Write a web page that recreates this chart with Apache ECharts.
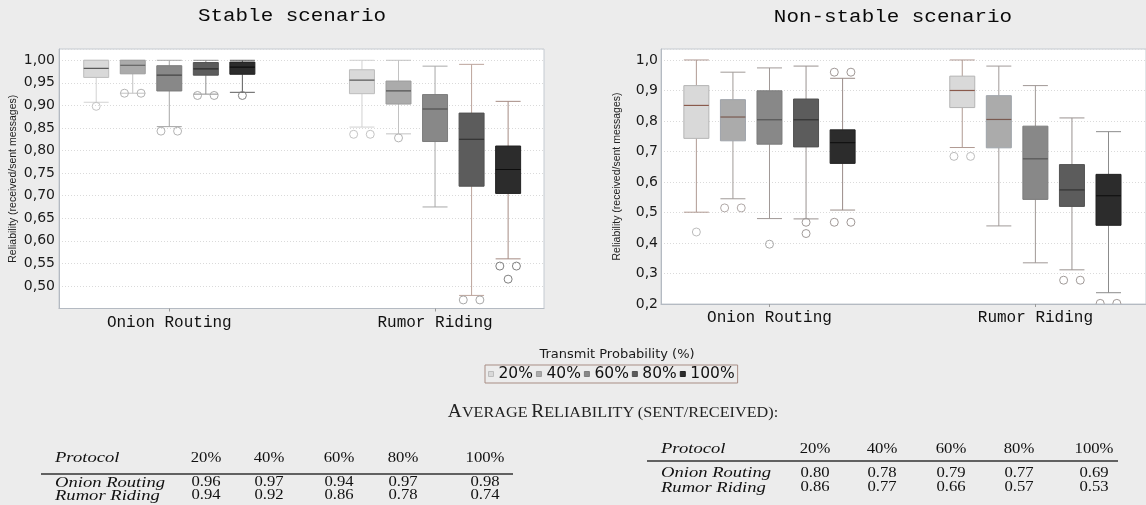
<!DOCTYPE html>
<html>
<head>
<meta charset="utf-8">
<script src="https://cdn.jsdelivr.net/npm/echarts@6/dist/echarts.min.js"></script>
<style>
  html, body { margin: 0; padding: 0; background: #ececec; }
  #chart { width: 1146px; height: 505px; }
</style>
</head>
<body>
<div id="chart"></div>
<script>
// Protocols on the x axis and transmit probabilities (one box per probability)
const categories = ['Onion Routing', 'Rumor Riding'];
const probabilities = ['20%', '40%', '60%', '80%', '100%'];

// Box statistics per probability: [lower whisker, Q1, median, Q3, upper whisker]
const stableOnion = [
  [0.907, 0.962, 0.982, 1.000, 1.000],
  [0.927, 0.970, 0.989, 1.000, 1.000],
  [0.853, 0.932, 0.967, 0.988, 1.000],
  [0.925, 0.967, 0.981, 0.995, 1.000],
  [0.929, 0.969, 0.985, 0.996, 1.000]
];
const stableRumor = [
  [0.852, 0.926, 0.956, 0.979, 1.000],
  [0.837, 0.903, 0.932, 0.954, 1.000],
  [0.675, 0.820, 0.892, 0.924, 0.987],
  [0.479, 0.721, 0.825, 0.883, 0.991],
  [0.560, 0.705, 0.758, 0.810, 0.909]
];
const stableOnionOutliers = [[0.898], [0.927, 0.927], [0.843, 0.843], [0.922, 0.922], [0.922]];
const stableRumorOutliers = [[0.836, 0.836], [0.828], [], [0.469, 0.469], [0.544, 0.544, 0.515]];

const unstableOnion = [
  [0.501, 0.743, 0.851, 0.916, 1.000],
  [0.545, 0.735, 0.813, 0.870, 0.960],
  [0.480, 0.724, 0.804, 0.899, 0.974],
  [0.479, 0.715, 0.804, 0.872, 0.980],
  [0.508, 0.661, 0.729, 0.771, 0.940]
];
const unstableRumor = [
  [0.713, 0.844, 0.900, 0.947, 1.000],
  [0.456, 0.712, 0.805, 0.883, 0.980],
  [0.335, 0.543, 0.676, 0.783, 0.916],
  [0.312, 0.520, 0.574, 0.657, 0.810],
  [0.237, 0.458, 0.555, 0.625, 0.765]
];
const unstableOnionOutliers = [[0.436], [0.515, 0.515], [0.396], [0.468, 0.431], [0.960, 0.960, 0.468, 0.468]];
const unstableRumorOutliers = [[0.684, 0.684], [], [], [0.278, 0.278], [0.202, 0.202]];

// Average reliability tables
const tableColumns = ['Protocol', '20%', '40%', '60%', '80%', '100%'];
const stableAvgOnion = [0.96, 0.97, 0.94, 0.97, 0.98];
const stableAvgRumor = [0.94, 0.92, 0.86, 0.78, 0.74];
const unstableAvgOnion = [0.80, 0.78, 0.79, 0.77, 0.69];
const unstableAvgRumor = [0.86, 0.77, 0.66, 0.57, 0.53];

// ---- styling ----
const boxFill = ['#d9d9d9', '#ababab', '#888888', '#5c5c5c', '#2c2c2c'];
const stableLook = {
  boxStroke: ['#bdbdbd', '#9c9c9c', '#7c7c7c', '#525252', '#222222'],
  median: ['#5a5a5a', '#555555', '#444444', '#2a2a2a', '#0d0d0d'],
  whisker: [['#d2d2d2', '#d2d2d2'], ['#c2c2c2', '#c2c2c2'], ['#a6a6a6', '#a8a8a8'], ['#8e8e8e', '#bca49c'], ['#5c5c5c', '#a68c84']],
  outlier: ['#c4c4c4', '#b4b4b4', '#b4b4b4', '#a8a8a8', '#808080']
};
const unstableLook = {
  boxStroke: ['#b4b4b4', '#9ea3aa', '#7c7c7c', '#525252', '#222222'],
  median: ['#8a5a4c', '#7a5a50', '#555555', '#333333', '#111111'],
  whisker: [['#b09a93', '#b09a93'], ['#a09a98', '#a09a98'], ['#a09896', '#a09896'], ['#9a9290', '#9a9290'], ['#9a8c88', '#8c8c8c']],
  outlier: ['#bcbcbc', '#b0a8a6', '#a8a8a8', '#a09a98', '#a09896']
};

const BOX_STEP = 0.1375;     // distance between neighbouring boxes, in category units
const BOX_WIDTH = 0.094;     // box width, in category units
const OUTLIER_STEP = 0.0625; // horizontal spread of repeated outliers

function boxSeries(k, gridIndex, onion, rumor, onionOut, rumorOut, look) {
  const outliers = [onionOut[k], rumorOut[k]];
  return {
    type: 'custom',
    name: probabilities[k],
    xAxisIndex: gridIndex,
    yAxisIndex: gridIndex,
    clip: true,
    itemStyle: { color: boxFill[k] },
    encode: { x: 0, y: [1, 2, 3, 4, 5] },
    data: [[0].concat(onion[k]), [1].concat(rumor[k])],
    renderItem: function (params, api) {
      const cat = api.value(0);
      const unit = api.size([1, 0])[0];
      const cx = api.coord([cat, 0])[0] + (k - 2) * unit * BOX_STEP;
      const half = unit * BOX_WIDTH / 2;
      const py = v => api.coord([cat, v])[1];
      const lo = py(api.value(1)), q1 = py(api.value(2)), md = py(api.value(3)),
            q3 = py(api.value(4)), hi = py(api.value(5));
      const wStyle = { stroke: look.whisker[k][cat], lineWidth: 1 };
      const children = [
        { type: 'line', shape: { x1: cx, y1: hi, x2: cx, y2: q3 }, style: wStyle },
        { type: 'line', shape: { x1: cx, y1: q1, x2: cx, y2: lo }, style: wStyle },
        { type: 'line', shape: { x1: cx - half, y1: hi, x2: cx + half, y2: hi }, style: wStyle },
        { type: 'line', shape: { x1: cx - half, y1: lo, x2: cx + half, y2: lo }, style: wStyle },
        { type: 'rect', shape: { x: cx - half, y: q3, width: half * 2, height: q1 - q3 },
          style: { fill: boxFill[k], stroke: look.boxStroke[k], lineWidth: 1 } },
        { type: 'line', shape: { x1: cx - half, y1: md, x2: cx + half, y2: md },
          style: { stroke: look.median[k], lineWidth: 1.2 } }
      ];
      // repeated outlier values are drawn side by side
      const counts = {};
      outliers[cat].forEach(v => { counts[v] = (counts[v] || 0) + 1; });
      Object.keys(counts).forEach(key => {
        const n = counts[key];
        const oy = py(+key);
        for (let j = 0; j < n; j++) {
          children.push({
            type: 'circle',
            shape: { cx: cx + (j - (n - 1) / 2) * unit * OUTLIER_STEP, cy: oy, r: 4 },
            style: { fill: 'none', stroke: look.outlier[k], lineWidth: 1 }
          });
        }
      });
      return { type: 'group', children: children };
    }
  };
}

function xAxisFor(gridIndex, min, max) {
  return {
    type: 'value', gridIndex: gridIndex, min: min, max: max,
    axisLine: { show: true, onZero: false, lineStyle: { color: '#b4bac2' } },
    axisTick: { show: true, customValues: [0, 1], length: 3, lineStyle: { color: '#9a9a9a' } },
    axisLabel: {
      customValues: [0, 1],
      formatter: v => categories[Math.round(v)],
      fontFamily: 'Liberation Mono', fontSize: 16, color: '#111', margin: 6
    },
    splitLine: { show: false }
  };
}

function yAxisFor(gridIndex, min, max, interval, digits, nameGap, labelMargin) {
  return {
    type: 'value', gridIndex: gridIndex, min: min, max: max, interval: interval,
    name: 'Reliability (received/sent messages)',
    nameLocation: 'middle', nameGap: nameGap,
    nameTextStyle: { fontFamily: 'Liberation Sans', fontSize: 10.5, color: '#222' },
    axisLine: { show: true, onZero: false, lineStyle: { color: '#b4bac2' } },
    axisTick: { show: false },
    axisLabel: {
      formatter: v => v.toFixed(digits).replace('.', ','),
      showMinLabel: digits === 1, showMaxLabel: false,
      fontFamily: 'DejaVu Sans', fontSize: 14, color: '#1a1a1a', margin: labelMargin
    },
    splitLine: { show: true, lineStyle: { color: '#dadada', type: [1, 2] } }
  };
}

// ---- tables under the charts (typeset slightly wide) ----
const SERIF = 'Liberation Serif';
function cellText(x, y, text, italic, align) {
  return {
    type: 'text', x: x, y: y, scaleX: italic ? 1.2 : 1.15,
    style: {
      text: text, fontFamily: SERIF, fontStyle: italic ? 'italic' : 'normal',
      fontSize: italic ? 15.5 : 14.5, fill: '#111', align: align, verticalAlign: 'middle'
    }
  };
}
function tableGraphics(x0, xRule1, ruleY, headerY, rowY, colX, onionAvg, rumorAvg) {
  const out = [];
  out.push(cellText(x0, headerY, tableColumns[0], true, 'left'));
  tableColumns.slice(1).forEach((c, i) => out.push(cellText(colX[i], headerY, c, false, 'center')));
  out.push({ type: 'line', shape: { x1: x0 - 14, y1: ruleY, x2: xRule1, y2: ruleY }, style: { stroke: '#333', lineWidth: 1.3 } });
  [[categories[0], onionAvg], [categories[1], rumorAvg]].forEach((row, r) => {
    out.push(cellText(x0, rowY[r], row[0], true, 'left'));
    row[1].forEach((v, i) => out.push(cellText(colX[i], rowY[r], v.toFixed(2), false, 'center')));
  });
  return out;
}

const series = [];
for (let k = 0; k < probabilities.length; k++) {
  series.push(boxSeries(k, 0, stableOnion, stableRumor, stableOnionOutliers, stableRumorOutliers, stableLook));
}
for (let k = 0; k < probabilities.length; k++) {
  series.push(boxSeries(k, 1, unstableOnion, unstableRumor, unstableOnionOutliers, unstableRumorOutliers, unstableLook));
}

const graphics = [
  { type: 'text', x: 292, y: 16, scaleX: 1.1,
    style: { text: 'Stable scenario', fontFamily: 'Liberation Mono', fontSize: 19, fill: '#0a0a0a', align: 'center', verticalAlign: 'middle' } },
  { type: 'text', x: 893, y: 17, scaleX: 1.1,
    style: { text: 'Non-stable scenario', fontFamily: 'Liberation Mono', fontSize: 19, fill: '#0a0a0a', align: 'center', verticalAlign: 'middle' } },
  { type: 'text', x: 617, y: 355,
    style: { text: 'Transmit Probability (%)', fontFamily: 'DejaVu Sans', fontSize: 13, fill: '#1a1a1a', align: 'center', verticalAlign: 'middle' } },
  { type: 'text', x: 613, y: 412, scaleX: 1.08,
    style: {
      text: '{b|A}{s|VERAGE} {b|R}{s|ELIABILITY} {s|(SENT/RECEIVED):}',
      align: 'center', verticalAlign: 'middle',
      rich: {
        b: { fontFamily: SERIF, fontSize: 18, fill: '#222', verticalAlign: 'bottom' },
        s: { fontFamily: SERIF, fontSize: 15, fill: '#222', verticalAlign: 'bottom' }
      }
    } }
].concat(
  tableGraphics(55, 513, 474, 458, [482.5, 495.5], [206, 269, 339, 403, 485], stableAvgOnion, stableAvgRumor),
  tableGraphics(661, 1118, 461, 449, [473, 487.5], [815, 882, 951, 1019, 1094], unstableAvgOnion, unstableAvgRumor)
);

const chart = echarts.init(document.getElementById('chart'));
chart.setOption({
  backgroundColor: '#ececec',
  animation: false,
  grid: [
    { left: 59, top: 49, width: 485, height: 259.5, show: true, backgroundColor: '#ffffff', borderColor: '#c4cad1', borderWidth: 1 },
    { left: 661, top: 49, width: 490, height: 255, show: true, backgroundColor: '#ffffff', borderColor: '#c4cad1', borderWidth: 1 }
  ],
  xAxis: [xAxisFor(0, -0.415, 1.41), xAxisFor(1, -0.408, 1.416)],
  yAxis: [
    yAxisFor(0, 0.45, 1.025, 0.05, 2, 40, 4),
    yAxisFor(1, 0.2, 1.036, 0.1, 1, 38, 3)
  ],
  legend: {
    data: probabilities.map((p, i) => ({
      name: p,
      itemStyle: { color: boxFill[i], borderColor: stableLook.boxStroke[i], borderWidth: 1 }
    })),
    left: 485, top: 365,
    orient: 'horizontal', icon: 'rect',
    itemWidth: 5, itemHeight: 5, itemGap: 3,
    padding: [1, 3, 1, 3],
    borderColor: '#a88d84', borderWidth: 1,
    selectedMode: false,
    textStyle: { fontFamily: 'DejaVu Sans', fontSize: 15.5, color: '#111' }
  },
  graphic: graphics,
  series: series
});
</script>
</body>
</html>
